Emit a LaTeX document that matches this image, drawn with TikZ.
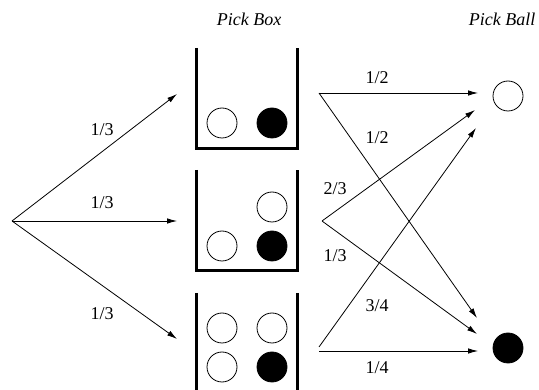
\documentclass[tikz,border=0pt]{standalone}
\usepackage{fontspec}
\setmainfont{Liberation Serif}
\usetikzlibrary{arrows.meta}
\begin{document}
\begin{tikzpicture}[x=1pt,y=-1pt,
  font=\fontsize{18}{20}\selectfont,
  arr/.style={-{Latex[length=10pt,width=5.5pt]}, line width=0.8pt},
  wall/.style={line width=3pt, line join=miter},
  wb/.style={circle, draw, line width=0.8pt, minimum size=30pt, inner sep=0pt},
  bb/.style={wb, fill=black},
  lab/.style={inner sep=0pt, anchor=center},
  ttl/.style={inner sep=0pt, anchor=center, font=\fontsize{18}{20}\selectfont\itshape}]
\clip (0,0) rectangle (539,390);
\fill[white] (0,0) rectangle (539,390);

% titles
\node[ttl] (t1) at (249,19) {Pick Box};
\node[ttl] (t2) at (502,19) {Pick Ball};

% boxes
\draw[wall] (196,48) -- (196,149) -- (297,149) -- (297,48);
\draw[wall] (196,170) -- (196,271) -- (297,271) -- (297,170);
\draw[wall] (196,293) -- (196,400);
\draw[wall] (297,293) -- (297,400);

% balls in boxes
\node[wb] (a1) at (222,123) {};
\node[bb] (a2) at (272,123) {};
\node[wb] (b1) at (272,207) {};
\node[wb] (b2) at (222,246) {};
\node[bb] (b3) at (272,246) {};
\node[wb] (c1) at (222,328) {};
\node[wb] (c2) at (272,328) {};
\node[wb] (c3) at (222,367) {};
\node[bb] (c4) at (272,367) {};

% outcome balls
\node[wb] (W) at (508,96) {};
\node[bb] (K) at (508,348) {};

% connector points
\coordinate (root) at (12,221);
\coordinate (in1) at (177,94);
\coordinate (in2) at (177,221);
\coordinate (in3) at (177,339);
\coordinate (o1) at (319,93);
\coordinate (o2) at (322,221);
\coordinate (o3a) at (319,347);
\coordinate (o3b) at (319,351);
\coordinate (w1) at (478,93);
\coordinate (w2) at (475,110);
\coordinate (w3) at (476,128);
\coordinate (k1) at (477,318);
\coordinate (k2) at (477,334);
\coordinate (k3) at (478,351);

\draw[arr] (root) -- (in1);
\draw[arr] (root) -- (in2);
\draw[arr] (root) -- (in3);
\draw[arr] (o1) -- (w1);
\draw[arr] (o1) -- (k1);
\draw[arr] (o2) -- (w2);
\draw[arr] (o2) -- (k2);
\draw[arr] (o3a) -- (w3);
\draw[arr] (o3b) -- (k3);

% labels
\node[lab] (l1) at (102,130) {1/3};
\node[lab] (l2) at (102,203) {1/3};
\node[lab] (l3) at (102,314) {1/3};
\node[lab] (l4) at (377,78) {1/2};
\node[lab] (l5) at (377,138) {1/2};
\node[lab] (l6) at (335,189) {2/3};
\node[lab] (l7) at (335,256) {1/3};
\node[lab] (l8) at (377,306) {3/4};
\node[lab] (l9) at (377,368) {1/4};
\end{tikzpicture}
\end{document}
